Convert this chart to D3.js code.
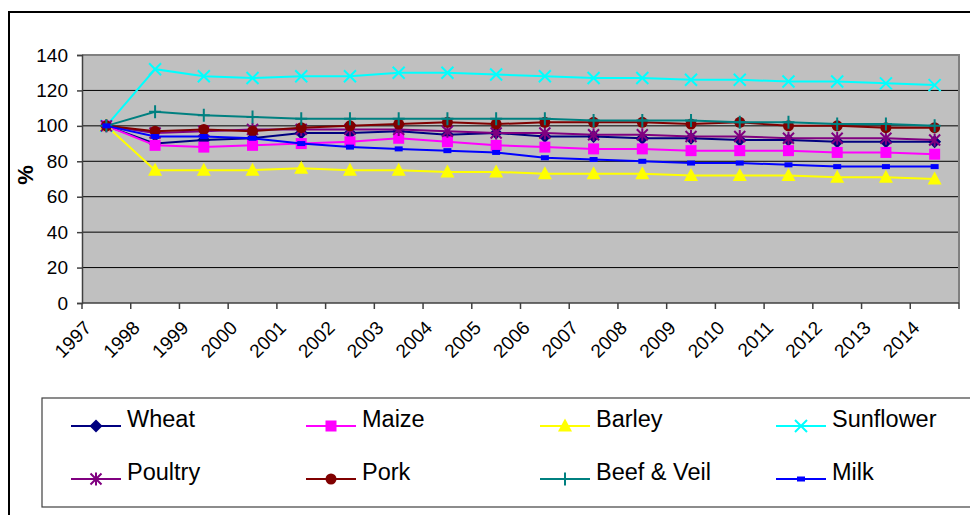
<!DOCTYPE html>
<html>
<head>
<meta charset="utf-8">
<script src="https://cdn.jsdelivr.net/npm/d3@7"></script>
<style>
  html, body { margin: 0; padding: 0; background: #fff; }
  svg { display: block; font-family: "Liberation Sans", Arial, sans-serif; }
</style>
</head>
<body>
<svg id="chart" width="970" height="515"></svg>
<script>
// Price indices (1997 = 100)
const years = ["1997","1998","1999","2000","2001","2002","2003","2004","2005","2006","2007","2008","2009","2010","2011","2012","2013","2014"];
const wheat     = [100, 90, 92, 93, 96, 96, 97, 95, 96, 94, 94, 93, 93, 92, 92, 91, 91, 91];
const maize     = [100, 89, 88, 89, 90, 91, 93, 91, 89, 88, 87, 87, 86, 86, 86, 85, 85, 84];
const barley    = [100, 75, 75, 75, 76, 75, 75, 74, 74, 73, 73, 73, 72, 72, 72, 71, 71, 70];
const sunflower = [100, 132, 128, 127, 128, 128, 130, 130, 129, 128, 127, 127, 126, 126, 125, 125, 124, 123];
const poultry   = [100, 96, 97, 98, 98, 98, 98, 97, 96, 96, 95, 95, 94, 94, 93, 93, 93, 92];
const pork      = [100, 97, 98, 97, 99, 100, 101, 102, 101, 102, 102, 102, 101, 102, 100, 100, 99, 99];
const beefVeil  = [100, 108, 106, 105, 104, 104, 104, 104, 104, 104, 103, 103, 103, 102, 102, 101, 101, 100];
const milk      = [100, 94, 94, 93, 90, 88, 87, 86, 85, 82, 81, 80, 79, 79, 78, 77, 77, 77];
const yTicks    = [0, 20, 40, 60, 80, 100, 120, 140];

const series = [
  { name: "Wheat",       values: wheat,     color: "#000080", marker: "diamond" },
  { name: "Maize",       values: maize,     color: "#FF00FF", marker: "square" },
  { name: "Barley",      values: barley,    color: "#FFFF00", marker: "triangle" },
  { name: "Sunflower",   values: sunflower, color: "#00FFFF", marker: "x" },
  { name: "Poultry",     values: poultry,   color: "#800080", marker: "asterisk" },
  { name: "Pork",        values: pork,      color: "#800000", marker: "circle" },
  { name: "Beef & Veil", values: beefVeil,  color: "#008080", marker: "plus" },
  { name: "Milk",        values: milk,      color: "#0000FF", marker: "dash" }
];

const svg = d3.select("#chart");

// outer chart frame
svg.append("path")
  .attr("d", "M9,520 V12 H980")
  .attr("fill", "none").attr("stroke", "#000").attr("stroke-width", 2);

const plot = { left: 82, right: 959, top: 55, bottom: 303 };

const x = d3.scaleBand().domain(years).range([plot.left, plot.right]);
const y = d3.scaleLinear().domain([0, 140]).range([plot.bottom, plot.top]);

// plot background
svg.append("rect")
  .attr("x", plot.left).attr("y", plot.top)
  .attr("width", plot.right - plot.left).attr("height", plot.bottom - plot.top)
  .attr("fill", "#C0C0C0");

// horizontal gridlines
svg.append("g").selectAll("line")
  .data(yTicks.filter(v => v > 0 && v < 140))
  .join("line")
  .attr("x1", plot.left).attr("x2", plot.right)
  .attr("y1", d => y(d)).attr("y2", d => y(d))
  .attr("stroke", "#000").attr("stroke-width", 1);

// plot border (top and right)
svg.append("path")
  .attr("d", `M${plot.left},${plot.top} H${plot.right} V${plot.bottom}`)
  .attr("fill", "none").attr("stroke", "#808080").attr("stroke-width", 2);

// y axis
const yAxis = svg.append("g")
  .attr("transform", `translate(${plot.left},0)`)
  .call(d3.axisLeft(y).tickValues(yTicks).tickSize(5).tickPadding(9));
yAxis.select(".domain").attr("stroke", "#404040").attr("stroke-width", 1.5);
yAxis.selectAll(".tick line").attr("stroke", "#404040").attr("stroke-width", 1.5);
yAxis.selectAll(".tick text").attr("font-size", 19).attr("fill", "#000")
  .attr("font-family", "Liberation Sans, Arial, sans-serif");

// x axis: ticks on category boundaries
const xAxisG = svg.append("g");
xAxisG.append("line")
  .attr("x1", plot.left).attr("x2", plot.right)
  .attr("y1", plot.bottom).attr("y2", plot.bottom)
  .attr("stroke", "#404040").attr("stroke-width", 1.5);
const boundaries = years.map(d => x(d)).concat([x(years[years.length - 1]) + x.bandwidth()]);
xAxisG.selectAll("line.tk")
  .data(boundaries)
  .join("line").attr("class", "tk")
  .attr("x1", d => d).attr("x2", d => d)
  .attr("y1", plot.bottom).attr("y2", plot.bottom + 6)
  .attr("stroke", "#404040").attr("stroke-width", 1.5);
xAxisG.selectAll("text")
  .data(years)
  .join("text")
  .attr("text-anchor", "end")
  .attr("font-size", 19)
  .attr("transform", d => `translate(${x(d) + x.bandwidth() / 2 - 14},329) rotate(-45)`)
  .text(d => d);

// y axis title
svg.append("text")
  .attr("transform", "translate(33,175) rotate(-90)")
  .attr("text-anchor", "middle")
  .attr("font-size", 22).attr("font-weight", "bold")
  .text("%");

// marker drawing
function drawMarker(g, type, color) {
  switch (type) {
    case "diamond":
      g.append("path").attr("d", "M0,-6.5L6.5,0L0,6.5L-6.5,0Z").attr("fill", color);
      break;
    case "square":
      g.append("rect").attr("x", -5.5).attr("y", -5.5).attr("width", 11).attr("height", 11).attr("fill", color);
      break;
    case "triangle":
      g.append("path").attr("d", "M0,-7.5L7,5.5L-7,5.5Z").attr("fill", color);
      break;
    case "x":
      g.append("path").attr("d", "M-6,-6L6,6M-6,6L6,-6").attr("stroke", color).attr("stroke-width", 2).attr("fill", "none");
      break;
    case "asterisk":
      g.append("path").attr("d", "M-5.5,-5.5L5.5,5.5M-5.5,5.5L5.5,-5.5M0,-6.5V6.5").attr("stroke", color).attr("stroke-width", 2).attr("fill", "none");
      break;
    case "circle":
      g.append("circle").attr("r", 5.5).attr("fill", color);
      break;
    case "plus":
      g.append("path").attr("d", "M0,-6.5V6.5M-6,0H6").attr("stroke", color).attr("stroke-width", 2).attr("fill", "none");
      break;
    case "dash":
      g.append("rect").attr("x", -4).attr("y", -2.5).attr("width", 8).attr("height", 5).attr("fill", color);
      break;
  }
}

const line = d3.line()
  .x((d, i) => x(years[i]) + x.bandwidth() / 2)
  .y(d => y(d));

// series lines and markers
series.forEach(s => {
  const g = svg.append("g");
  g.append("path")
    .attr("d", line(s.values))
    .attr("fill", "none").attr("stroke", s.color).attr("stroke-width", 2);
  s.values.forEach((v, i) => {
    const m = g.append("g")
      .attr("transform", `translate(${x(years[i]) + x.bandwidth() / 2},${y(v)})`);
    drawMarker(m, s.marker, s.color);
  });
});

// legend
const legend = svg.append("g");
legend.append("rect")
  .attr("x", 42).attr("y", 398).attr("width", 960).attr("height", 109)
  .attr("fill", "#fff").attr("stroke", "#404040").attr("stroke-width", 1.2);

const colX = [71, 306, 540, 776];
const rowY = [426, 479];
series.forEach((s, i) => {
  const cx = colX[i % 4], cy = rowY[Math.floor(i / 4)];
  const item = legend.append("g");
  item.append("line")
    .attr("x1", cx).attr("x2", cx + 50)
    .attr("y1", cy).attr("y2", cy)
    .attr("stroke", s.color).attr("stroke-width", 2);
  const m = item.append("g").attr("transform", `translate(${cx + 25},${cy})`);
  drawMarker(m, s.marker, s.color);
  item.append("text")
    .attr("x", cx + 56).attr("y", cy + 1)
    .attr("font-size", 23.5).attr("fill", "#000")
    .text(s.name);
});
</script>
</body>
</html>
